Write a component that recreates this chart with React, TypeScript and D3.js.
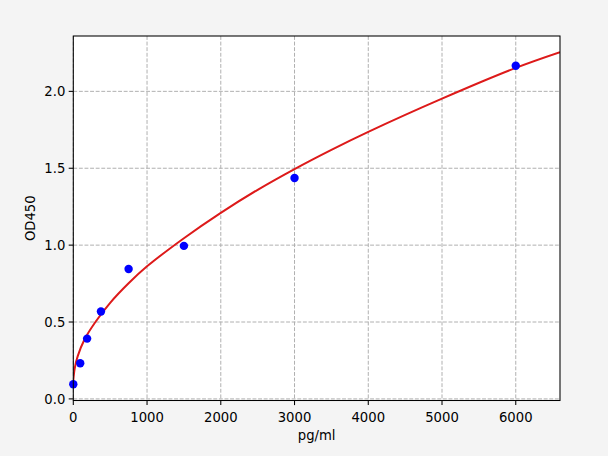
import * as d3 from "d3";

// standard points (concentration, OD)
const concentrations = [0, 93.75, 187.5, 375, 750, 1500, 3000, 6000];
const odValues = [0.095, 0.232, 0.392, 0.568, 0.845, 0.995, 1.437, 2.167];

// fitted curve
const curveX = [0, 20, 60, 150, 300, 500, 750, 1000, 1500, 2000, 2500, 3000, 3500, 4000, 5000, 6000, 6600];
const curveY = [0.12, 0.2, 0.278, 0.385, 0.5, 0.625, 0.752, 0.862, 1.045, 1.21, 1.36, 1.495, 1.62, 1.737, 1.953, 2.153, 2.255];

const xTicks = [0, 1000, 2000, 3000, 4000, 5000, 6000];
const yTicks = [0.0, 0.5, 1.0, 1.5, 2.0];

function App() {
  const width = 608;
  const height = 456;
  const marginLeft = 73.3;
  const marginRight = 48;
  const marginTop = 36;
  const marginBottom = 55.5;
  const font = "DejaVu Sans, sans-serif";
  const fontSize = 13.2;

  const x = d3
    .scaleLinear()
    .domain([0, 6600])
    .range([marginLeft, width - marginRight]);
  const y = d3
    .scaleLinear()
    .domain([-0.0104, 2.36])
    .range([height - marginBottom, marginTop]);

  const line = d3
    .line<number>()
    .x((d) => x(d))
    .y((_, i) => y(curveY[i]))
    .curve(d3.curveCatmullRom.alpha(0.5));

  const left = x.range()[0];
  const right = x.range()[1];
  const top = y.range()[1];
  const bottom = y.range()[0];

  return (
    <svg
      width={width}
      height={height}
      style={{ position: "absolute", left: 0, top: 0 }}
      fontFamily={font}
    >
      <rect width={width} height={height} fill="#f4f4f4" />
      <rect x={left} y={top} width={right - left} height={bottom - top} fill="#ffffff" />

      {/* grid */}
      <g stroke="#b0b0b0" strokeWidth={1} strokeDasharray="3.9,1.7">
        {xTicks.map((t) => (
          <line key={"gx" + t} x1={x(t)} x2={x(t)} y1={top} y2={bottom} />
        ))}
        {yTicks.map((t) => (
          <line key={"gy" + t} x1={left} x2={right} y1={y(t)} y2={y(t)} />
        ))}
      </g>

      <defs>
        <clipPath id="plot">
          <rect x={left} y={top} width={right - left} height={bottom - top} />
        </clipPath>
      </defs>

      <path
        d={line(curveX) ?? ""}
        fill="none"
        stroke="#dd1a1a"
        strokeWidth={2}
        clipPath="url(#plot)"
      />

      <g fill="#0000ff">
        {concentrations.map((c, i) => (
          <circle key={i} cx={x(c)} cy={y(odValues[i])} r={4.2} />
        ))}
      </g>

      {/* frame */}
      <rect
        x={left}
        y={top}
        width={right - left}
        height={bottom - top}
        fill="none"
        stroke="#000000"
        strokeWidth={1.06}
      />

      {/* x axis */}
      <g fontSize={fontSize} fill="#000000" textAnchor="middle">
        {xTicks.map((t) => (
          <g key={"xt" + t}>
            <line x1={x(t)} x2={x(t)} y1={bottom} y2={bottom + 4.6} stroke="#000000" strokeWidth={1.06} />
            <text x={x(t)} y={bottom + 21}>
              {t}
            </text>
          </g>
        ))}
        <text x={(left + right) / 2} y={bottom + 39.5}>
          pg/ml
        </text>
      </g>

      {/* y axis */}
      <g fontSize={fontSize} fill="#000000" textAnchor="end">
        {yTicks.map((t) => (
          <g key={"yt" + t}>
            <line x1={left - 4.6} x2={left} y1={y(t)} y2={y(t)} stroke="#000000" strokeWidth={1.06} />
            <text x={left - 8} y={y(t)} dy="0.36em">
              {t.toFixed(1)}
            </text>
          </g>
        ))}
        <text
          transform={`translate(${35},${(top + bottom) / 2}) rotate(-90)`}
          textAnchor="middle"
        >
          OD450
        </text>
      </g>
    </svg>
  );
}

export default App;
